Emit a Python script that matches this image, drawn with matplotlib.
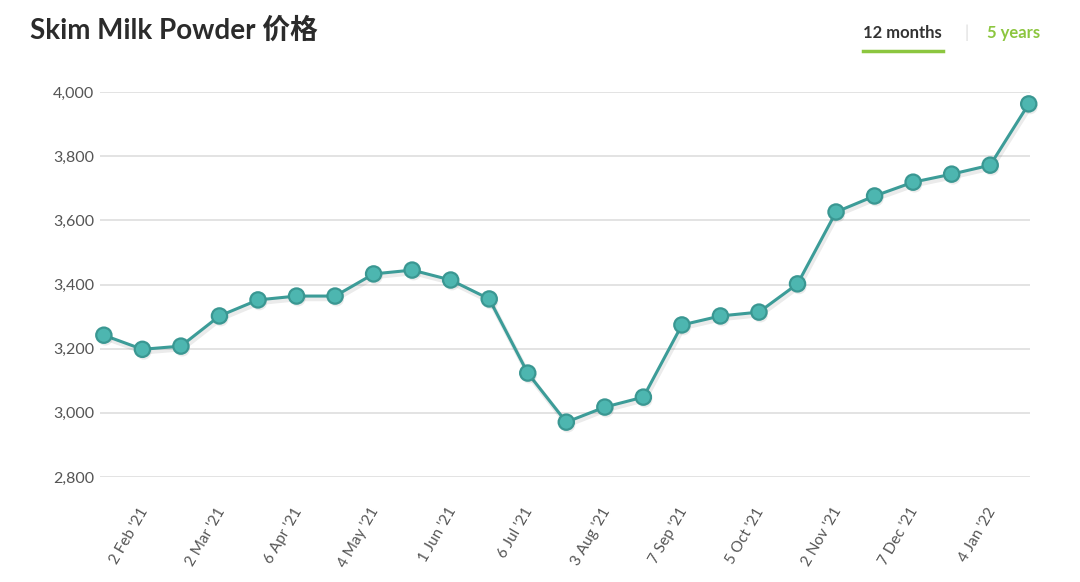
import matplotlib.pyplot as plt
import matplotlib.patheffects as pe
import matplotlib.transforms as mtrans

plt.rcParams['font.family'] = ['Lato', 'Noto Sans CJK SC', 'DejaVu Sans']

# GDT auction dates (every second one labelled)
dates = ["19 Jan '21", "2 Feb '21", "16 Feb '21", "2 Mar '21", "16 Mar '21",
         "6 Apr '21", "20 Apr '21", "4 May '21", "18 May '21", "1 Jun '21",
         "15 Jun '21", "6 Jul '21", "20 Jul '21", "3 Aug '21", "17 Aug '21",
         "7 Sep '21", "21 Sep '21", "5 Oct '21", "19 Oct '21", "2 Nov '21",
         "16 Nov '21", "7 Dec '21", "21 Dec '21", "4 Jan '22", "18 Jan '22"]
prices = [3242, 3198, 3208, 3302, 3352, 3364, 3364, 3433, 3445, 3414,
          3355, 3124, 2971, 3018, 3049, 3274, 3302, 3314, 3402, 3626,
          3676, 3719, 3744, 3772, 3963]
yticks = [2800, 3000, 3200, 3400, 3600, 3800, 4000]

fig = plt.figure(figsize=(10.8, 5.82), dpi=100)
ax = fig.add_axes([0.0926, 0.1804, 0.861, 0.6615])

x = list(range(len(prices)))
shadow = [pe.SimplePatchShadow(offset=(1, -2), shadow_rgbFace='#000000', alpha=0.08), pe.Normal()]
ax.plot(x, prices, color='#3c9c98', lw=2.2, zorder=3, clip_on=False,
        path_effects=[pe.SimpleLineShadow(offset=(1, -2), alpha=0.08, linewidth=3.5), pe.Normal()])
ax.plot(x, prices, 'o', ms=11, mfc='#4db6b0', mec='#3a9792', mew=1.6, zorder=4,
        clip_on=False, path_effects=shadow)

ax.set_xlim(-0.1, 24.03)
ax.set_ylim(2800, 4000)
ax.set_yticks(yticks)
ax.set_yticklabels([f'{v:,}' for v in yticks])
ax.set_xticks(x[1::2])
ax.set_xticklabels([])
# date labels, rotated and nudged like the original
base = mtrans.blended_transform_factory(ax.transData, ax.transAxes)
shift = mtrans.ScaledTranslation(-4 / 100, -28 / 100, fig.dpi_scale_trans)
for xi in x[1::2]:
    ax.text(xi, 0, dates[xi], transform=base + shift, rotation=60,
            ha='right', va='top', rotation_mode='anchor',
            fontsize=11, color='#555555')
ax.grid(axis='y', color='#e3e3e3', lw=1.4)
ax.set_axisbelow(True)
for s in ax.spines.values():
    s.set_visible(False)
ax.tick_params(axis='y', length=0, pad=4, labelsize=11.5, labelcolor='#555555')
ax.tick_params(axis='x', length=0)

fig.text(0.028, 0.948, 'Skim Milk Powder 价格', fontsize=20, fontweight='bold',
         color='#2b2b2b', va='center')
fig.text(0.799, 0.943, '12 months', fontsize=12, fontweight='bold', color='#333333', va='center')
fig.add_artist(plt.Line2D([0.799, 0.873], [0.912, 0.912], color='#8cc63f', lw=2.5))
fig.text(0.893, 0.943, '|', fontsize=12, color='#dddddd', va='center')
fig.text(0.914, 0.943, '5 years', fontsize=12, fontweight='bold', color='#8cc63f', va='center')

fig.savefig('out.png', dpi=100, facecolor='white')
